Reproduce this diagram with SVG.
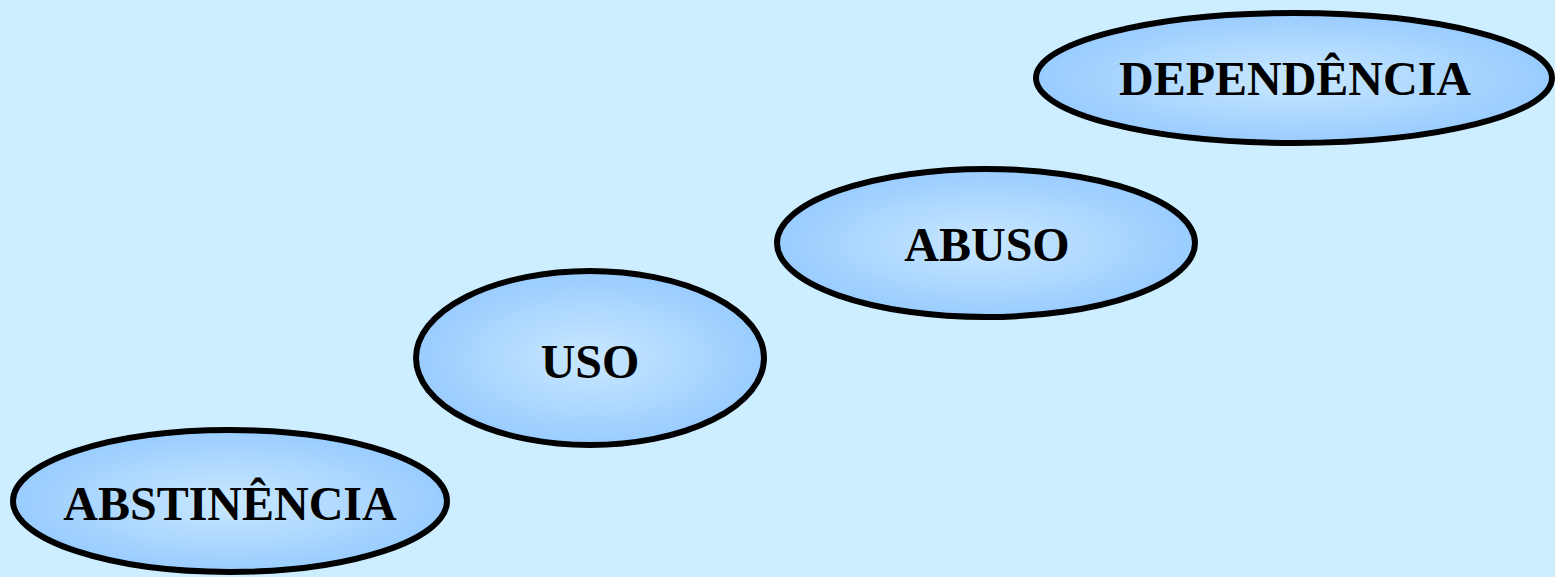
<svg xmlns="http://www.w3.org/2000/svg" width="1555" height="577" viewBox="0 0 1555 577">
<defs>
<radialGradient id="g" cx="50%" cy="50%" r="50%">
<stop offset="0" stop-color="#c9e8ff"/>
<stop offset="1" stop-color="#99ccff"/>
</radialGradient>
<style>
.n{fill:url(#g);stroke:#000;stroke-width:6}
.t{font-family:"Liberation Serif","Times New Roman",serif;font-weight:bold;font-size:48px;fill:#000;text-anchor:middle}
</style>
</defs>
<rect width="1555" height="577" fill="#cceeff"/>
<g id="connectors"></g>
<g id="abstinencia">
<ellipse class="n" cx="230" cy="501" rx="217" ry="71"/>
<text class="t" x="230" y="520">ABSTINÊNCIA</text>
</g>
<g id="uso">
<ellipse class="n" cx="590" cy="358" rx="174" ry="87"/>
<text class="t" x="590" y="378">USO</text>
</g>
<g id="abuso">
<ellipse class="n" cx="986" cy="243" rx="209" ry="74"/>
<text class="t" x="987" y="261">ABUSO</text>
</g>
<g id="dependencia">
<ellipse class="n" cx="1294" cy="78" rx="258" ry="65"/>
<text class="t" x="1295" y="95">DEPENDÊNCIA</text>
</g>
</svg>
